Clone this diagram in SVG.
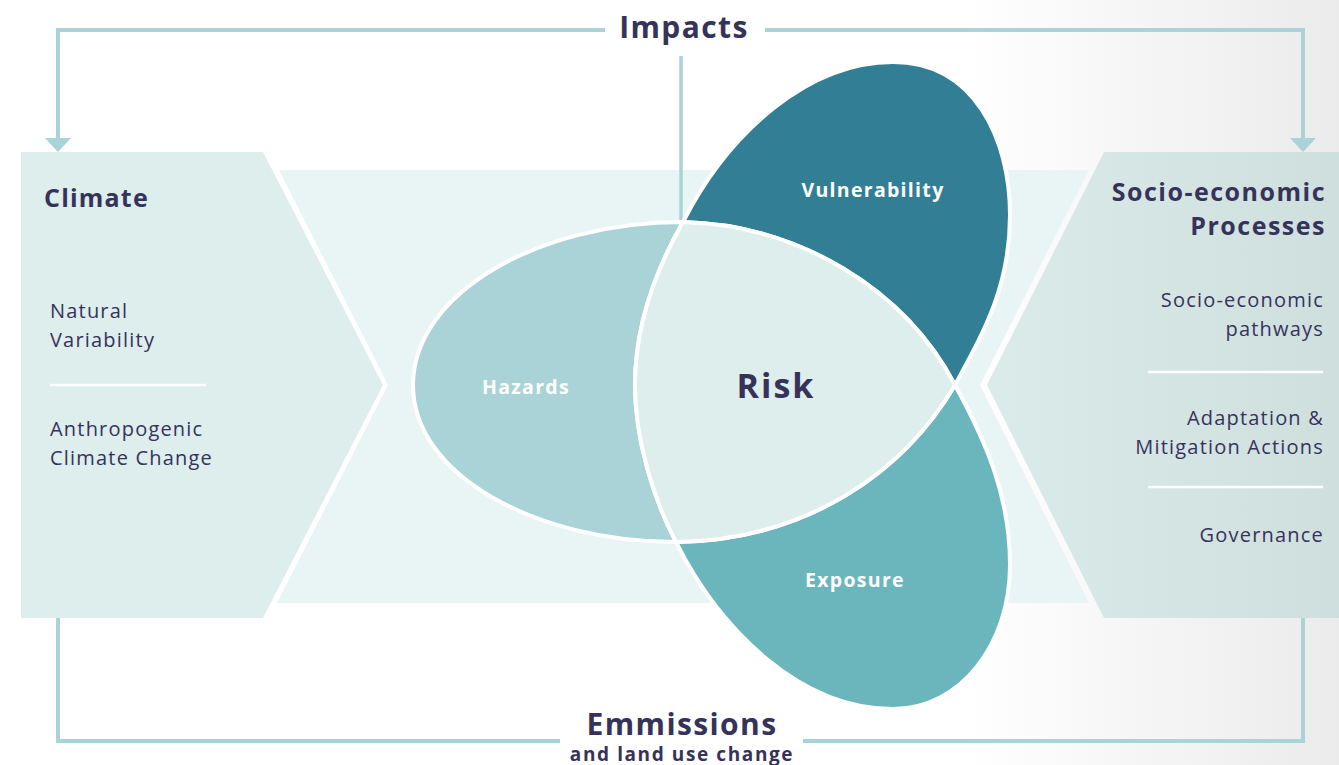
<svg xmlns="http://www.w3.org/2000/svg" width="1339" height="765" viewBox="0 0 1339 765">
  <defs>
    <linearGradient id="bg" x1="0" y1="0" x2="1339" y2="0" gradientUnits="userSpaceOnUse">
      <stop offset="0.72" stop-color="#ffffff"/>
      <stop offset="1" stop-color="#ebebeb"/>
    </linearGradient>
    <linearGradient id="rightPanel" x1="985" y1="0" x2="1339" y2="0" gradientUnits="userSpaceOnUse">
      <stop offset="0" stop-color="#dbebea"/>
      <stop offset="1" stop-color="#cfdfde"/>
    </linearGradient>
    <style>
      .link { fill: none; stroke: #a9d3d6; stroke-width: 4; }
      .head { fill: #a9d3d6; }
      .petal { stroke: #ffffff; stroke-width: 4; stroke-linejoin: round; }
      .title { font-family: "Open Sans", "Liberation Sans", sans-serif; font-weight: 700; fill: #36335a; }
      .item { font-family: "Open Sans", "Liberation Sans", sans-serif; font-weight: 400; font-size: 20px; letter-spacing: 1.2px; fill: #36335a; }
      .label { font-family: "Open Sans", "Liberation Sans", sans-serif; font-weight: 700; font-size: 19.5px; letter-spacing: 1.3px; fill: #ffffff; text-anchor: middle; }
      .divider { stroke: #ffffff; stroke-width: 2.5; }
    </style>
  </defs>

  <!-- page background -->
  <rect x="0" y="0" width="1339" height="765" fill="url(#bg)"/>

  <!-- central band between the two side panels -->
  <polygon points="279,170 1089,170 980,385 1089,603 277,603 388,385" fill="#e9f5f5"/>

  <!-- feedback connectors -->
  <g id="connectors">
    <polyline class="link" points="605,30 58,30 58,140"/>
    <polyline class="link" points="765,30 1303,30 1303,140"/>
    <line x1="681" y1="56" x2="681" y2="223" stroke="#a9d3d6" stroke-width="3.5"/>
    <polyline class="link" points="560,741 58,741 58,493"/>
    <polyline class="link" points="803,741 1303,741 1303,617"/>
    <path class="head" d="M45,138 L71,138 L58,152 Z"/>
    <path class="head" d="M1290,138 L1316,138 L1303,152 Z"/>
    <path class="head" d="M45,493 L71,493 L58,480 Z"/>
  </g>

  <!-- Climate panel -->
  <g id="climate">
    <polygon points="21,152 263,152 383,385 263,618 21,618" fill="#ddeeed"/>
    <text class="title" x="44" y="207" font-size="25" letter-spacing="1.2">Climate</text>
    <text class="item" x="50" y="318">Natural</text>
    <text class="item" x="50" y="347">Variability</text>
    <line class="divider" x1="50" y1="385" x2="206" y2="385"/>
    <text class="item" x="50" y="436">Anthropogenic</text>
    <text class="item" x="50" y="465">Climate Change</text>
  </g>

  <!-- Socio-economic panel -->
  <g id="socio-economic">
    <polygon points="1104,152 1339,152 1339,618 1104,618 987,385" fill="url(#rightPanel)"/>
    <text class="title" x="1326" y="201" font-size="25" letter-spacing="1.5" text-anchor="end">Socio-economic</text>
    <text class="title" x="1326" y="235" font-size="25" letter-spacing="1.5" text-anchor="end">Processes</text>
    <text class="item" x="1324" y="307" text-anchor="end">Socio-economic</text>
    <text class="item" x="1324" y="336" text-anchor="end">pathways</text>
    <line class="divider" x1="1148" y1="372" x2="1323" y2="372"/>
    <text class="item" x="1324" y="425" text-anchor="end">Adaptation &amp;</text>
    <text class="item" x="1324" y="454" text-anchor="end">Mitigation Actions</text>
    <line class="divider" x1="1148" y1="487" x2="1323" y2="487"/>
    <text class="item" x="1324" y="542" text-anchor="end">Governance</text>
  </g>

  <!-- Hazards petal -->
  <g id="hazards">
    <path class="petal" fill="#a9d3d6" d="M683,222 C536,222 413,295 413,385 C413,475 536,542 676,542 C654,500 635,440 635,385 C635,335 650,280 683,222 Z"/>
    <text class="label" x="526" y="394">Hazards</text>
  </g>

  <!-- Vulnerability petal -->
  <g id="vulnerability">
    <path class="petal" fill="#327e94" d="M683,222 C730,130 810,62 893,62 C975,62 1010,140 1010,215 C1010,285 985,330 955,385 C905,290 800,225 683,222 Z"/>
    <text class="label" x="873" y="197">Vulnerability</text>
  </g>

  <!-- Exposure petal -->
  <g id="exposure">
    <path class="petal" fill="#6bb5bc" d="M955,385 C985,440 1010,495 1010,565 C1010,645 960,709 893,709 C800,709 720,630 676,542 C810,540 905,470 955,385 Z"/>
    <text class="label" x="855" y="587">Exposure</text>
  </g>

  <!-- Risk: common core of the three petals -->
  <g id="risk">
    <path class="petal" fill="#ddeeed" d="M683,222 C800,225 905,290 955,385 C905,470 810,540 676,542 C654,500 635,440 635,385 C635,335 650,280 683,222 Z"/>
    <text class="title" x="776" y="398" font-size="34" letter-spacing="2" text-anchor="middle">Risk</text>
  </g>

  <!-- connector captions -->
  <g id="impacts">
    <text class="title" x="684" y="38" font-size="30" letter-spacing="1.4" text-anchor="middle">Impacts</text>
  </g>
  <g id="emissions">
    <text class="title" x="682" y="735" font-size="30" letter-spacing="1.4" text-anchor="middle">Emmissions</text>
    <text class="title" x="682" y="761" font-size="19" letter-spacing="1.6" text-anchor="middle">and land use change</text>
  </g>
</svg>
